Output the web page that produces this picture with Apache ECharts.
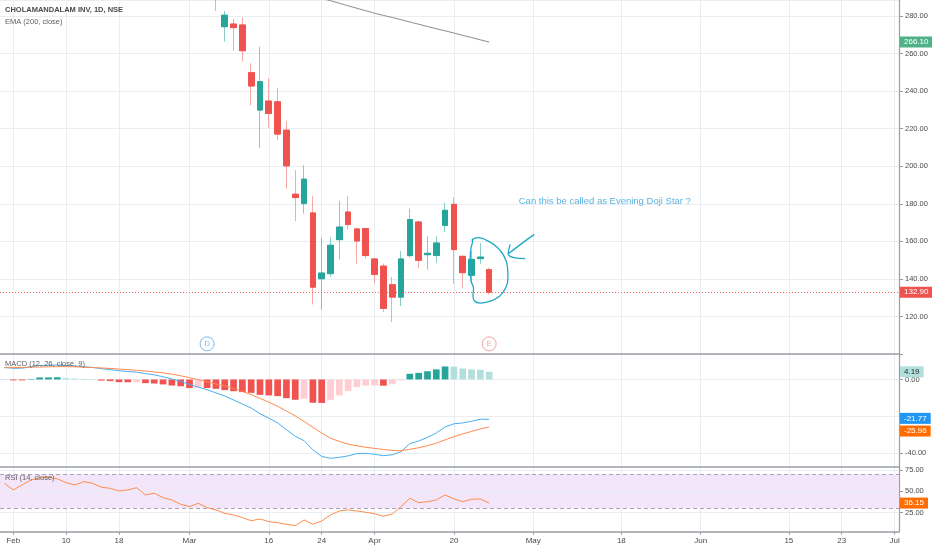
<!DOCTYPE html>
<html>
<head>
<meta charset="utf-8">
<script src="https://cdn.jsdelivr.net/npm/echarts@6/dist/echarts.min.js"></script>
<style>html,body{margin:0;padding:0;background:#fff}#c{width:932px;height:550px}</style>
</head>
<body>
<div id="c"></div>
<script>
// ---------- data ----------
const pastDates = ['01-31','02-01','02-03','02-04','02-05','02-06','02-07','02-10','02-11','02-12','02-13','02-14','02-17','02-18','02-19','02-20','02-24','02-25','02-26','02-27','02-28','03-02','03-03','03-04','03-05','03-06','03-09','03-11','03-12','03-13','03-16','03-17','03-18','03-19','03-20','03-23','03-24','03-25','03-26','03-27','03-30','03-31','04-01','04-03','04-07','04-08','04-09','04-13','04-15','04-16','04-17','04-20','04-21','04-22','04-23','04-24'];
const futureDates = ['04-27','04-28','04-29','04-30','05-04','05-05','05-06','05-07','05-08','05-11','05-12','05-13','05-14','05-15','05-18','05-19','05-20','05-21','05-22','05-26','05-27','05-28','05-29','06-01','06-02','06-03','06-04','06-05','06-08','06-09','06-10','06-11','06-12','06-15','06-16','06-17','06-18','06-19','06-22','06-23','06-24','06-25','06-26','06-29','06-30','07-01'];

const candleFrom = '03-05';
const opens  = [300.0,274.3,275.7,275.2,249.8,229.9,234.7,234.3,219.2,185.1,180.1,175.1,140.1,142.8,160.9,175.6,166.6,166.8,150.6,146.8,136.9,130.3,152.4,170.3,152.9,152.5,168.5,179.7,152.0,141.9,150.8,144.9];
const closes = [291.0,280.4,273.8,261.5,242.7,245.0,228.1,217.1,200.2,183.3,193.1,135.6,143.1,157.9,167.6,169.0,160.2,152.4,142.4,124.3,130.3,150.6,171.6,149.9,153.6,159.1,176.5,155.6,143.3,150.4,151.6,132.9];
const highs  = [304.0,282.7,278.4,279.3,254.8,263.6,246.8,241.8,224.0,197.9,200.5,184.0,161.8,162.0,181.5,184.2,167.2,167.3,151.2,148.1,141.0,154.8,177.4,170.8,162.7,162.7,180.6,183.6,152.5,154.7,159.1,146.0];
const lows   = [282.7,266.3,261.5,255.6,232.4,209.8,220.4,213.9,188.1,170.8,174.8,126.4,123.6,141.0,150.4,166.4,148.1,150.8,137.8,122.3,117.0,125.5,151.3,145.8,144.9,148.6,164.9,137.4,135.3,137.4,148.1,131.7];

const emaFrom = '03-19';
const ema200 = [293.3,292.0,290.7,289.4,288.1,286.8,285.4,284.1,282.8,281.5,280.3,279.2,278.0,276.8,275.6,274.4,273.2,272.1,270.9,269.7,268.5,267.3,266.1];

const macdLine   = [6.6,6.1,6.2,6.9,7.6,7.8,7.9,7.6,7.3,6.9,6.6,5.9,5.4,4.8,4.3,4.0,3.2,2.5,1.5,0.3,-1.1,-2.7,-4.2,-5.6,-7.3,-9.0,-11.2,-13.4,-15.6,-18.7,-21.1,-23.7,-27.4,-31.0,-33.4,-38.4,-42.0,-43.0,-42.5,-41.7,-40.4,-40.3,-40.8,-41.6,-41.1,-39.4,-35.0,-33.6,-31.6,-29.2,-25.9,-24.2,-23.7,-22.8,-21.7,-21.77];
const signalLine = [6.4,6.5,6.6,6.7,6.8,6.9,7.0,7.0,6.9,6.7,6.5,6.3,6.0,5.7,5.35,5.0,4.6,4.1,3.6,2.9,2.0,1.0,-0.1,-1.3,-2.5,-3.4,-4.9,-6.5,-8.3,-10.3,-12.4,-14.6,-17.2,-19.9,-22.9,-26.1,-29.2,-32.1,-33.8,-35.3,-36.2,-37.0,-37.6,-38.2,-38.7,-38.9,-38.14,-37.24,-36.11,-34.74,-32.96,-31.21,-29.71,-28.34,-27.01,-25.96];
const macdHist   = [0.3,-0.5,-0.5,0.3,1.1,1.15,1.2,0.7,0.5,0.35,0.2,-0.6,-0.9,-1.45,-1.5,-1.45,-2.0,-2.2,-2.7,-3.3,-3.7,-4.7,-4.5,-4.7,-5.1,-5.8,-6.4,-6.9,-7.3,-8.4,-8.7,-9.1,-10.2,-11.1,-10.5,-12.7,-12.8,-11.1,-8.7,-6.4,-4.2,-3.3,-3.2,-3.4,-2.4,-0.5,3.1,3.6,4.5,5.5,7.1,7.0,6.0,5.5,5.3,4.19];
const rsi14      = [59.4,51.5,57.4,63.2,65.5,66.5,64.6,60.1,57.4,61.3,59.4,54.7,53.5,50.4,51.5,54.2,45.7,47.7,42.5,39.8,34.8,32.0,35.9,30.8,28.1,24.2,22.2,19.1,15.5,17.5,14.4,13.2,11.3,9.7,16.4,11.3,15.2,22.2,26.9,28.1,26.9,25.4,23.7,20.7,23.4,32.0,41.8,36.6,37.8,39.8,45.7,41.0,37.8,40.6,41.0,36.15];

const macdTicks = [0,-40];
const macdGridValues = [0,-20,-40];
const rsiTicks = [25,50,75];
const rsiBand = [30,70];

const timeTickDates = ['02-01','02-10','02-18','03-02','03-16','03-24','04-01','04-20','05-04','05-18','06-01','06-15','06-23','07-01'];
const timeTickTexts = ['Feb','10','18','Mar','16','24','Apr','20','May','18','Jun','15','23','Jul'];

const events = [['03-04','D'],['04-24','E']];

const noteText = 'Can this be called as Evening Doji Star ?';
const notePoint = [58.3,181.3];
const loopPath = [[53.04,160.9],[53.79,162.0],[54.74,160.5],[55.88,157.0],[56.63,152.5],[57.08,146.3],[57.13,140.1],[56.82,134.8],[56.17,130.7],[55.12,128.2],[53.99,127.1],[53.34,128.2],[53.16,131.2],[53.23,134.8],[52.93,139.2],[52.85,145.4],[52.85,150.8],[52.93,156.1],[53.11,160.2]];
const arrowShaft = [[60.11,163.7],[58.6,158.5],[57.16,153.3]];
const arrowHead = [[57.39,158.4],[57.16,153.3],[57.96,151.2],[59.09,150.8]];

// ---------- build ----------
const FONT = 'Liberation Sans, Arial, sans-serif';
const GRIDC = '#e9eef3';
const SEP = '#9a9da5';
const TXT = '#4a4a4a';
const UP = '#26a69a', DOWN = '#ef5350';

const cats = pastDates.concat(futureDates).map(d => '2020-' + d);
const N = cats.length;
const full = d => '2020-' + d;
const c0 = cats.indexOf(full(candleFrom));
const e0 = cats.indexOf(full(emaFrom));

const wickRows = opens.map((o, k) => [cats[c0 + k], o, closes[k], lows[k], highs[k]]);
const bodyRows = opens.map((o, k) => [cats[c0 + k], o, closes[k], Math.min(o, closes[k]), Math.max(o, closes[k])]);
const emaRows = ema200.map((v, k) => [cats[e0 + k], v]);

const histData = macdHist.map((v, i) => {
  const rising = i > 0 && v > macdHist[i - 1];
  const col = v >= 0 ? (rising ? '#26a69a' : '#b2dfdb') : (rising ? '#ffcdd2' : '#f05350');
  return { value: v, itemStyle: { color: col } };
});

const tickSet = new Set(timeTickDates.map(full));
const tickText = {};
timeTickDates.forEach((d, i) => { tickText[full(d)] = timeTickTexts[i]; });
const showTick = (i, v) => tickSet.has(v);

function xCat(grid, labels) {
  return {
    type: 'category', gridIndex: grid, data: cats, boundaryGap: true,
    axisLine: { show: true, onZero: false, lineStyle: { color: SEP, width: 1.5 } },
    axisTick: labels ? { show: true, interval: showTick, alignWithLabel: true, length: 3, lineStyle: { color: SEP } } : { show: false },
    axisLabel: labels ? { show: true, interval: showTick, formatter: v => tickText[v] || '', color: TXT, fontSize: 8, fontFamily: FONT, margin: 5 } : { show: false },
    splitLine: { show: true, interval: showTick, alignWithLabel: true, lineStyle: { color: GRIDC, width: 1 } }
  };
}

const axisLineY = { show: true, onZero: false, lineStyle: { color: SEP, width: 1.2 } };
const labelY = { color: TXT, fontSize: 7.5, fontFamily: FONT, margin: 6 };
const HIDDEN_LINE = { width: 0, color: 'rgba(0,0,0,0)' };

function tagLabel(value, bg, fg, dy) {
  return { show: true, position: 'end', distance: 1, formatter: () => value.toFixed(2), offset: [0, dy || 0],
    backgroundColor: bg, color: fg, padding: [1, 4, 1, 4], lineHeight: 9, fontSize: 8, fontFamily: FONT, opacity: 1 };
}
function tagItem(value, bg, fg, dy) {
  return { yAxis: value, lineStyle: HIDDEN_LINE, label: tagLabel(value, bg, fg, dy) };
}
function gridItem(value, dashed) {
  return { yAxis: value, lineStyle: dashed ? { color: '#a9a3b3', type: [4, 3], width: 1 } : { color: GRIDC, type: 'solid', width: 1 }, label: { show: false } };
}

const lastClose = closes[closes.length - 1];
const lastEma = ema200[ema200.length - 1];
const lastHist = macdHist[macdHist.length - 1];
const lastMacd = macdLine[macdLine.length - 1];
const lastSignal = signalLine[signalLine.length - 1];
const lastRsi = rsi14[rsi14.length - 1];

const eventColors = { D: '#5aa9e6', E: '#f08a8a' };

const option = {
  animation: false,
  backgroundColor: '#ffffff',
  textStyle: { fontFamily: FONT },
  grid: [
    { left: 0, right: 33, top: 0, height: 354, outerBoundsMode: 'none' },
    { left: 0, right: 33, top: 354, height: 112.7, outerBoundsMode: 'none' },
    { left: 0, right: 33, top: 466.7, height: 65, outerBoundsMode: 'none' }
  ],
  xAxis: [
    xCat(0, false),
    xCat(1, false),
    xCat(2, true),
    { type: 'value', gridIndex: 0, min: -0.5, max: N - 0.5, show: false, axisLine: { onZero: false }, splitLine: { show: false } }
  ],
  yAxis: [
    { type: 'value', gridIndex: 0, position: 'right', min: 100, max: 288.5, interval: 20,
      axisLine: axisLineY, axisTick: { show: true, length: 4, lineStyle: { color: SEP } },
      axisLabel: Object.assign({}, labelY, { formatter: v => (v < 110 || v > 285) ? '' : v.toFixed(2), showMinLabel: true, showMaxLabel: false }),
      splitLine: { show: true, lineStyle: { color: GRIDC } } },
    { type: 'value', gridIndex: 1, position: 'right', min: -47.6, max: 13.9,
      axisLine: axisLineY, axisTick: { show: true, length: 4, customValues: macdTicks, lineStyle: { color: SEP } },
      axisLabel: Object.assign({}, labelY, { customValues: macdTicks, formatter: v => v.toFixed(2) }),
      splitLine: { show: false } },
    { type: 'value', gridIndex: 2, position: 'right', min: 2.6, max: 78.8,
      axisLine: axisLineY, axisTick: { show: true, length: 4, customValues: rsiTicks, lineStyle: { color: SEP } },
      axisLabel: Object.assign({}, labelY, { customValues: rsiTicks, formatter: v => v.toFixed(2) }),
      splitLine: { show: false } }
  ],
  graphic: [
    { type: 'text', left: 5, top: 6, z: 100, style: { text: 'CHOLAMANDALAM INV, 1D, NSE', fill: '#4a4a4a', font: 'bold 7.5px Liberation Sans, Arial, sans-serif' } },
    { type: 'text', left: 5, top: 17.5, z: 100, style: { text: 'EMA (200, close)', fill: '#606060', font: '7.5px Liberation Sans, Arial, sans-serif' } },
    { type: 'text', left: 5, top: 360, z: 100, style: { text: 'MACD (12, 26, close, 9)', fill: '#606060', font: '7.5px Liberation Sans, Arial, sans-serif' } },
    { type: 'text', left: 5, top: 473.5, z: 100, style: { text: 'RSI (14, close)', fill: '#606060', font: '7.5px Liberation Sans, Arial, sans-serif' } }
  ],
  series: [
    { name: 'wick', type: 'candlestick', xAxisIndex: 0, yAxisIndex: 0, data: wickRows,
      encode: { x: 0, y: [1, 2, 3, 4] }, barWidth: '70%', clip: true, silent: true,
      itemStyle: { color: 'rgba(38,166,154,0.55)', color0: 'rgba(239,83,80,0.5)', borderColor: 'rgba(38,166,154,0.55)', borderColor0: 'rgba(239,83,80,0.5)', borderWidth: 1 } },
    { name: 'body', type: 'candlestick', xAxisIndex: 0, yAxisIndex: 0, data: bodyRows,
      encode: { x: 0, y: [1, 2, 3, 4] }, barWidth: '70%', clip: true, silent: true,
      itemStyle: { color: UP, color0: DOWN, borderColor: UP, borderColor0: DOWN, borderWidth: 1 },
      markLine: { silent: true, symbol: 'none', animation: false,
        data: [{ yAxis: lastClose, lineStyle: { color: '#ef5350', type: [1, 2], width: 1, opacity: 0.9 }, label: tagLabel(lastClose, '#ef5350', '#ffffff') }] } },
    { name: 'EMA', type: 'line', xAxisIndex: 0, yAxisIndex: 0, data: emaRows, showSymbol: false, clip: true, silent: true,
      lineStyle: { color: '#8a8c90', width: 1 },
      markLine: { silent: true, symbol: 'none', animation: false, data: [tagItem(lastEma, '#4fb286', '#ffffff')] } },
    { name: 'events', type: 'scatter', xAxisIndex: 0, yAxisIndex: 0, silent: true,
      data: events.map(e => ({ value: [full(e[0]), 105.4],
        itemStyle: { color: '#ffffff', borderColor: eventColors[e[1]], borderWidth: 1 },
        label: { show: true, position: 'inside', formatter: e[1], color: eventColors[e[1]], fontSize: 7.5, fontFamily: FONT } })),
      symbol: 'circle', symbolSize: 14 },
    { name: 'loop', type: 'line', xAxisIndex: 3, yAxisIndex: 0, data: loopPath.concat([loopPath[0]]), smooth: 0.5, showSymbol: false, clip: false, silent: true, z: 10,
      lineStyle: { color: '#1ea8c6', width: 1.3 } },
    { name: 'arrowShaft', type: 'line', xAxisIndex: 3, yAxisIndex: 0, data: arrowShaft, smooth: 0.3, showSymbol: false, clip: false, silent: true, z: 10,
      lineStyle: { color: '#1ea8c6', width: 1.3 } },
    { name: 'arrowHead', type: 'line', xAxisIndex: 3, yAxisIndex: 0, data: arrowHead, smooth: 0.4, showSymbol: false, clip: false, silent: true, z: 10,
      lineStyle: { color: '#1ea8c6', width: 1.3 } },
    { name: 'note', type: 'scatter', xAxisIndex: 3, yAxisIndex: 0, data: [notePoint], symbolSize: 1, silent: true,
      itemStyle: { color: 'rgba(0,0,0,0)' },
      label: { show: true, position: 'right', distance: 0, formatter: noteText, color: '#2f9fd6', fontSize: 9.5, fontFamily: FONT } },
    { name: 'hist', type: 'bar', xAxisIndex: 1, yAxisIndex: 1, data: histData, barWidth: '76%', silent: true, z: 2,
      markLine: { silent: true, symbol: 'none', animation: false, z: 1,
        data: macdGridValues.map(v => gridItem(v, false)).concat([tagItem(lastHist, '#b2dfdb', '#2b2b2b')]) } },
    { name: 'MACD', type: 'line', xAxisIndex: 1, yAxisIndex: 1, data: macdLine, showSymbol: false, silent: true, z: 3,
      lineStyle: { color: '#4aaef0', width: 1 },
      markLine: { silent: true, symbol: 'none', animation: false, data: [tagItem(lastMacd, '#2196f3', '#ffffff', -1)] } },
    { name: 'Signal', type: 'line', xAxisIndex: 1, yAxisIndex: 1, data: signalLine, showSymbol: false, silent: true, z: 3,
      lineStyle: { color: '#ff8a50', width: 1 },
      markLine: { silent: true, symbol: 'none', animation: false, data: [tagItem(lastSignal, '#ff6d00', '#ffffff', 4)] } },
    { name: 'RSI', type: 'line', xAxisIndex: 2, yAxisIndex: 2, data: rsi14, showSymbol: false, silent: true, z: 3,
      lineStyle: { color: '#ff8c4b', width: 1 },
      markArea: { silent: true, itemStyle: { color: '#f3e6fb' }, data: [[{ yAxis: rsiBand[0] }, { yAxis: rsiBand[1] }]] },
      markLine: { silent: true, symbol: 'none', animation: false, z: 1,
        data: rsiTicks.map(v => gridItem(v, false)).concat(rsiBand.map(v => gridItem(v, true))).concat([tagItem(lastRsi, '#ff6d00', '#ffffff')]) } }
  ]
};

const chart = echarts.init(document.getElementById('c'), null, { renderer: 'canvas' });
chart.setOption(option);
</script>
</body>
</html>
